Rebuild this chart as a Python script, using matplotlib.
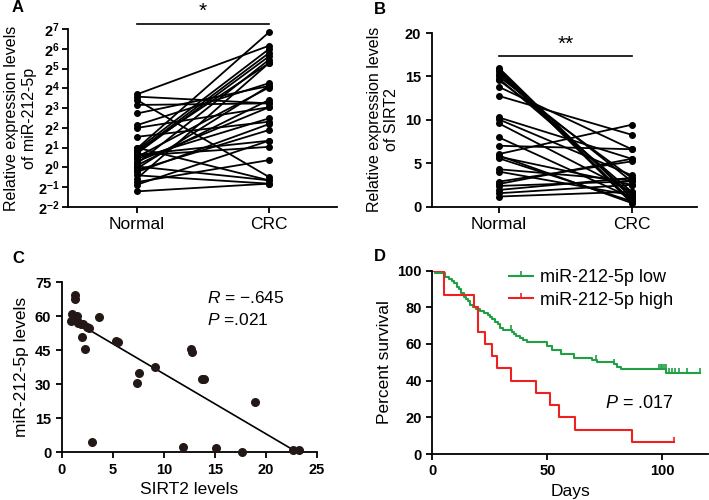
import matplotlib
matplotlib.use('Agg')
import matplotlib.pyplot as plt
import numpy as np

plt.rcParams['font.family'] = ['Liberation Sans', 'DejaVu Sans']
plt.rcParams['mathtext.fontset'] = 'custom'
plt.rcParams['mathtext.rm'] = 'Liberation Sans'
plt.rcParams['mathtext.bf'] = 'Liberation Sans:bold'
plt.rcParams['mathtext.it'] = 'Liberation Sans:italic'
plt.rcParams['axes.linewidth'] = 1.3

# ---- data ----
groups = ['Normal', 'CRC']

# Panel A: miR-212-5p (log2 of relative expression), paired samples
mir_normal_log2 = [3.70, 3.58, 3.41, 3.16, 2.73, 2.14, 2.00, 1.55, 0.96, 0.90,
                   0.79, 0.71, 0.60, 0.53, 0.45, 0.20, 0.11, 0.05, -0.14, -0.23,
                   -0.40, -0.56, -0.74, -0.87, -1.21, 0.30, 1.00, 0.65, -0.05, 0.85]
mir_crc_log2 = [6.15, 3.24, -0.48, 3.24, 4.12, 4.26, 3.04, 2.31, 6.83, 5.98,
                5.78, 5.61, 1.04, 4.04, 2.48, 5.44, 3.41, -0.65, 1.89, 2.19,
                -0.82, 5.27, 0.37, 1.35, -0.82, 3.04, -0.65, 1.35, 4.12, 5.27]
mir_ticks_log2 = [-2, -1, 0, 1, 2, 3, 4, 5, 6, 7]

# Panel B: SIRT2 relative expression, paired samples
sirt_normal = [15.96, 15.77, 15.57, 15.31, 15.0, 14.73, 14.54, 13.78, 12.74, 10.26,
               10.03, 9.57, 7.96, 7.0, 6.05, 5.86, 5.74, 5.55, 4.29, 4.02,
               2.87, 2.6, 2.37, 1.91, 1.53, 1.15]
sirt_crc = [1.0, 0.6, 0.4, 1.3, 2.9, 1.7, 3.3, 6.6, 8.27, 5.5,
            3.6, 1.7, 1.0, 6.6, 9.42, 0.4, 2.5, 0.6, 3.0, 1.3,
            5.2, 5.5, 2.9, 3.3, 2.5, 1.7]

# Panel C: SIRT2 levels vs miR-212-5p levels
sirt_levels = [1.31, 1.31, 0.98, 1.47, 0.88, 1.14, 1.63, 2.12, 2.52, 2.68,
               2.03, 2.29, 3.66, 5.33, 5.56, 7.35, 7.61, 9.15, 12.65, 12.81,
               13.79, 13.95, 18.95, 2.94, 11.86, 15.13, 17.65, 22.7, 23.2, 1.55, 1.85]
mir_levels = [69.4, 67.5, 61.0, 60.1, 58.1, 58.4, 57.6, 56.6, 55.4, 54.7,
              51.0, 45.4, 59.7, 49.3, 48.8, 30.4, 34.9, 37.5, 45.6, 44.4,
              32.5, 32.2, 22.4, 4.7, 2.2, 2.1, 0.0, 1.0, 1.0, 57.0, 56.5]
fit_x = [1.0, 22.7]
fit_y = [58.5, 1.0]

# Panel D: Kaplan-Meier survival
low_days = [0, 1.0, 5.5, 7, 8.5, 9.5, 10.5, 11.5, 12.5, 13.5, 14.5, 15.5, 16.5,
            17.5, 19, 20.5, 22.5, 24, 25, 26, 27, 28.5, 29.5, 30.5, 34.5, 35.5,
            36.5, 38, 39.5, 41, 50, 52, 55.7, 61.5, 69.5, 71.7, 79, 80.4, 82,
            101.5, 116.6]
low_surv = [100, 98.9, 96.7, 95.5, 94.4, 93.3, 91.1, 90, 87.8, 85.6, 84.4, 83.3,
            81.1, 80, 78.9, 77.8, 76.7, 75.6, 74.4, 73.3, 72.2, 71.1, 68.9, 67.8,
            66.7, 65.6, 64.4, 63.3, 62.2, 61.1, 58.9, 56.7, 54.4, 52.2, 51.3, 50,
            49, 47.6, 46.2, 44.4, 44.4]
low_censor = [0.5, 34, 71, 79, 98.6, 99.3, 100, 100.7, 101.4, 102.8, 104.3,
              105.7, 107.2, 110.8, 116.6]
high_days = [0, 5, 18, 20, 23, 26, 28, 34, 45, 51, 55, 62, 87, 105]
high_surv = [100, 86.7, 80, 66.7, 60, 53.3, 46.7, 40, 33.3, 26.7, 20, 13.3, 6.7, 6.7]
high_censor = [105]

green = '#1fa045'
red = '#ee2020'
dot = '#231815'

fig = plt.figure(figsize=(7.09, 5.0), dpi=100)


def style_axes(ax):
    ax.spines['top'].set_visible(False)
    ax.spines['right'].set_visible(False)
    ax.tick_params(direction='out', length=4, width=1.3, labelsize=10.5)


def bold_ticks(labels):
    for lab in labels:
        lab.set_fontweight('bold')


# ---- Panel A ----
axA = fig.add_axes([0.096, 0.586, 0.379, 0.356])
for n, c in zip(mir_normal_log2, mir_crc_log2):
    axA.plot([0, 1], [2 ** n, 2 ** c], '-o', color='k', lw=1.3, ms=4)
style_axes(axA)
axA.tick_params(axis='y', pad=2)
axA.set_yscale('log', base=2)
axA.set_ylim(2 ** -2, 2 ** 7)
axA.set_xlim(-0.523, 1.515)
axA.set_yticks([2.0 ** t for t in mir_ticks_log2])
axA.set_yticklabels(['$\\mathbf{2^{%d}}$' % t for t in mir_ticks_log2])
axA.yaxis.set_minor_locator(matplotlib.ticker.NullLocator())
axA.set_xticks([0, 1])
axA.set_xticklabels(groups, fontsize=12.5)
axA.set_ylabel('Relative expression levels\nof miR-212-5p', fontsize=11.5, labelpad=1)
axA.plot([0, 1], [2 ** 7.25, 2 ** 7.25], color='k', lw=1.2, clip_on=False)
axA.text(0.5, 2 ** 7.4, '*', ha='center', va='bottom', fontsize=15)
fig.text(0.017, 0.975, 'A', fontsize=12, fontweight='bold')

# ---- Panel B ----
axB = fig.add_axes([0.609, 0.587, 0.374, 0.347])
for n, c in zip(sirt_normal, sirt_crc):
    axB.plot([0, 1], [n, c], '-o', color='k', lw=1.3, ms=4)
style_axes(axB)
axB.set_ylim(0, 20)
axB.set_xlim(-0.507, 1.492)
axB.set_yticks([0, 5, 10, 15, 20])
bold_ticks(axB.get_yticklabels())
axB.set_xticks([0, 1])
axB.set_xticklabels(groups, fontsize=12.5)
axB.set_ylabel('Relative expression levels\nof SIRT2', fontsize=11.5)
axB.plot([0, 1], [17.3, 17.3], color='k', lw=1.2)
axB.text(0.5, 17.6, '**', ha='center', va='bottom', fontsize=15)
fig.text(0.527, 0.972, 'B', fontsize=12, fontweight='bold')

# ---- Panel C ----
axC = fig.add_axes([0.087, 0.0954, 0.36, 0.34])
axC.scatter(sirt_levels, mir_levels, s=30, color=dot, zorder=3, clip_on=False)
axC.plot(fit_x, fit_y, color='k', lw=1.2)
style_axes(axC)
axC.set_xlim(0, 25)
axC.set_ylim(0, 75)
axC.set_xticks([0, 5, 10, 15, 20, 25])
axC.set_yticks([0, 15, 30, 45, 60, 75])
bold_ticks(axC.get_xticklabels())
bold_ticks(axC.get_yticklabels())
axC.set_xlabel('SIRT2 levels', fontsize=12.5)
axC.set_ylabel('miR-212-5p levels', fontsize=12.5)
axC.text(14.2, 68, '$\\mathit{R}$ = \u2212.645', fontsize=12.5, va='center')
axC.text(14.2, 58.5, '$\\mathit{P}$ =.021', fontsize=12.5, va='center')
fig.text(0.017, 0.474, 'C', fontsize=12, fontweight='bold')

# ---- Panel D ----
axD = fig.add_axes([0.61, 0.092, 0.389, 0.367])
low_days = np.array(low_days)
low_surv = np.array(low_surv)
high_days = np.array(high_days)
high_surv = np.array(high_surv)
axD.step(low_days, low_surv, where='post', color=green, lw=1.5)
axD.step(high_days, high_surv, where='post', color=red, lw=1.5)
tick_marker = [(0, 0), (0, 1)]
low_c = low_surv[np.searchsorted(low_days, low_censor, side='right') - 1]
high_c = high_surv[np.searchsorted(high_days, high_censor, side='right') - 1]
axD.plot(low_censor, low_c, ls='none', marker=tick_marker, ms=7, mew=1.2, color=green)
axD.plot(high_censor, high_c, ls='none', marker=tick_marker, ms=7, mew=1.2, color=red)
style_axes(axD)
axD.set_xlim(0, 120)
axD.set_ylim(0, 100)
axD.set_xticks([0, 50, 100])
axD.set_yticks([0, 20, 40, 60, 80, 100])
bold_ticks(axD.get_xticklabels())
bold_ticks(axD.get_yticklabels())
axD.set_xlabel('Days', fontsize=12.5)
axD.set_ylabel('Percent survival', fontsize=12.5)
h1, = axD.plot([], [], color=green, lw=1.5, marker=tick_marker, ms=7, mew=1.2)
h2, = axD.plot([], [], color=red, lw=1.5, marker=tick_marker, ms=7, mew=1.2)
axD.legend([h1, h2], ['miR-212-5p low', 'miR-212-5p high'], loc='upper left',
           bbox_to_anchor=(0.232, 1.075), frameon=False, fontsize=13,
           handlelength=1.3, handletextpad=0.4, labelspacing=0.3, borderpad=0.2)
axD.text(75, 25, '$\\mathit{P}$ = .017', fontsize=13)
fig.text(0.527, 0.478, 'D', fontsize=12, fontweight='bold')

fig.savefig('out.png', dpi=100)
